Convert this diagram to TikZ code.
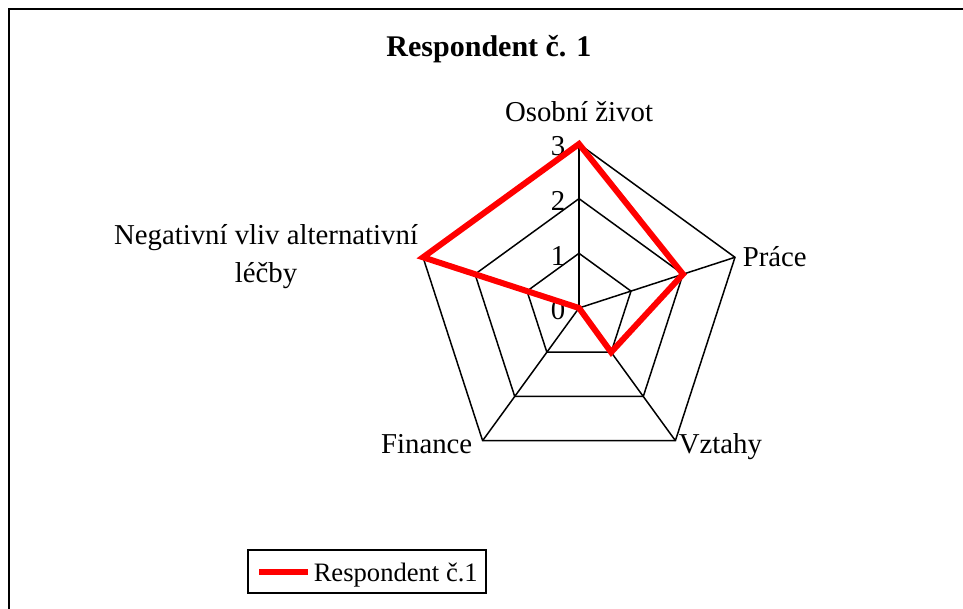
\documentclass[tikz,border=0pt]{standalone}
\usepackage{fontspec}
\setmainfont{Liberation Serif}
\tikzset{
  popis/.style={font=\fontsize{14.4}{19}\selectfont,inner sep=0pt},
  hodnota/.style={red,line width=3pt},
}
\newcommand{\ka}{54.667}

\begin{document}
\begin{tikzpicture}[x=0.5pt,y=0.5pt,line width=0.75pt]
  \useasboundingbox (0,0) rectangle (963,609);
  % ramecek
  \draw[line width=1.25pt] (9,0) -- (9,600) -- (963,600);
  \node[font=\fontsize{15}{18}\selectfont\bfseries,anchor=base,inner sep=0pt] (titulek) at (489,552) {Respondent č. 1};
  % pavucina
  \begin{scope}[shift={(579,301)}]
    \coordinate (stred) at (0,0);
    \foreach \i/\a in {1/90,2/18,3/-54,4/-126,5/162}
      \coordinate (osa\i) at (\a:3*\ka);
    \foreach \r in {1,2,3}
      \draw (90:\r*\ka) -- (18:\r*\ka) -- (-54:\r*\ka) -- (-126:\r*\ka) -- (162:\r*\ka) -- cycle;
    \foreach \i in {1,...,5} \draw (stred) -- (osa\i);
    \foreach \r in {0,1,2,3}
      \node[popis,anchor=base east] (stupen\r) at (-13,\r*\ka-12) {\r};
    % data
    \draw[hodnota] (90:3*\ka) -- (18:2*\ka) -- (-54:1*\ka) -- (stred) -- (162:3*\ka) -- cycle;
  \end{scope}
  % popisky os
  \node[popis,anchor=base] (osobni) at (579,487) {Osobní život};
  \node[popis,anchor=base west] (prace) at (742,342) {Práce};
  \node[popis,anchor=base west] (vztahy) at (678,155) {Vztahy};
  \node[popis,anchor=base east] (finance) at (473,155) {Finance};
  \node[popis,align=center] (negativni) at (266,352) {Negativní vliv alternativní\\léčby};
  % legenda
  \draw[line width=0.8pt] (248,16) rectangle (486,59);
  \coordinate (leg1) at (259,37);
  \coordinate (leg2) at (308,37);
  \draw[hodnota] (leg1) -- (leg2);
  \node[font=\fontsize{13.3}{16}\selectfont,anchor=base west,inner sep=0pt] (legtext) at (313,27) {Respondent č.1};
\end{tikzpicture}
\end{document}
